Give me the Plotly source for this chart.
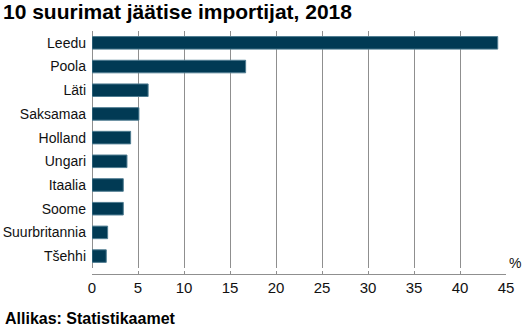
import plotly.graph_objects as go

countries = ["Leedu", "Poola", "Läti", "Saksamaa", "Holland", "Ungari",
             "Itaalia", "Soome", "Suurbritannia", "Tšehhi"]
shares = [44.1, 16.7, 6.1, 5.1, 4.2, 3.8, 3.4, 3.4, 1.7, 1.55]
x_ticks = [0, 5, 10, 15, 20, 25, 30, 35, 40, 45]

FONT = "Liberation Sans, Arial, sans-serif"
GRID = "#8f8f8f"

fig = go.Figure(go.Bar(
    x=shares, y=countries, orientation="h",
    marker=dict(color="#013a54", line=dict(color="#4f7c91", width=1)),
    hoverinfo="x+y",
))

fig.update_layout(
    width=523, height=331,
    margin=dict(l=92, r=17, t=31, b=57),
    paper_bgcolor="white", plot_bgcolor="white",
    bargap=0.47,
    showlegend=False,
    font=dict(family=FONT, size=14, color="#111111"),
    title=dict(text="<b>10 suurimat jäätise importijat, 2018</b>",
               font=dict(family=FONT, size=21, color="black"),
               xref="container", x=3/523, xanchor="left",
               yref="container", y=1-12/331, yanchor="middle"),
    xaxis=dict(range=[0, 45], tickvals=x_ticks, ticktext=[str(v) for v in x_ticks],
               showgrid=True, gridcolor=GRID, gridwidth=1,
               zeroline=True, zerolinecolor=GRID, zerolinewidth=1,
               showline=True, linecolor=GRID, linewidth=1,
               ticks="inside", ticklen=3, tickcolor=GRID,
               anchor="free", position=0, automargin=False,
               tickfont=dict(size=15, color="#111111"), fixedrange=True),
    yaxis=dict(domain=[0.025, 1], autorange="reversed", type="category",
               showgrid=False, zeroline=False, showline=False, ticks="",
               ticklabelstandoff=5, automargin=False,
               tickfont=dict(size=14, color="#111111"), fixedrange=True),
    annotations=[
        dict(text="%", xref="paper", yref="paper", x=1.003, y=0.045,
             xanchor="left", yanchor="middle", showarrow=False,
             font=dict(family=FONT, size=14, color="#111111")),
        dict(text="<b>Allikas: Statistikaamet</b>", xref="paper", yref="paper",
             x=(3-92)/414, y=(274-318)/243, xanchor="left", yanchor="middle",
             showarrow=False, font=dict(family=FONT, size=16, color="black")),
    ],
)

fig.write_html("out.html")
